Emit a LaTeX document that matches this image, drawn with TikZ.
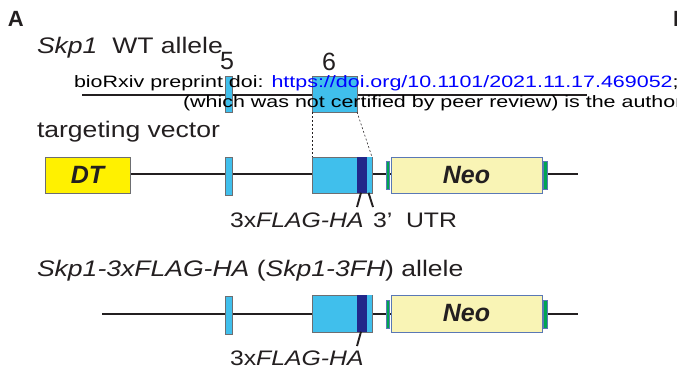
\documentclass[tikz,border=0pt]{standalone}
\usepackage{fontspec}
\setmainfont[FakeStretch=1.18]{Liberation Sans}
\newfontfamily\plainfont{Liberation Sans}
\newfontfamily\wmfont[FakeStretch=1.3]{Liberation Sans}
\definecolor{exonblue}{HTML}{40BFEC}
\definecolor{navy}{HTML}{22278A}
\definecolor{dtyellow}{HTML}{FFF100}
\definecolor{neoyellow}{HTML}{F9F4B5}
\definecolor{neoedge}{HTML}{5A78B5}
\definecolor{loxgreen}{HTML}{00A651}
\definecolor{boxedge}{HTML}{6D6E71}
\definecolor{ink}{HTML}{231F20}
\definecolor{linkblue}{HTML}{0000FF}
\begin{document}
\begin{tikzpicture}[x=1pt,y=-1pt,
  every node/.style={inner sep=0pt, outer sep=0pt},
  backbone/.style={draw=ink, line width=1.4pt},
  exon/.style={draw=boxedge, fill=exonblue, line width=0.6pt},
  tagbox/.style={fill=navy, draw=none},
  utrbox/.style={fill=exonblue, draw=none},
  dtbox/.style={draw=boxedge, fill=dtyellow, line width=0.6pt},
  neobox/.style={draw=neoedge, fill=neoyellow, line width=0.8pt},
  lox/.style={draw=neoedge, fill=loxgreen, line width=0.5pt, minimum width=3.5pt, minimum height=28pt},
  tick/.style={draw=ink, line width=1.9pt},
  zoomline/.style={draw=ink, line width=0.5pt, dash pattern=on 2pt off 2pt},
  title/.style={anchor=base west, text=ink, font=\fontsize{22.5}{25}\selectfont},
  label/.style={anchor=base west, text=ink, font=\fontsize{21}{24}\selectfont},
  boxtext/.style={text=ink, font=\plainfont\fontsize{25}{28}\selectfont\bfseries\itshape},
  exonnum/.style={text=ink, font=\plainfont\fontsize{25}{28}\selectfont},
  panel/.style={anchor=base west, text=ink, font=\plainfont\fontsize{22}{24}\selectfont\bfseries},
  stamp/.style={anchor=base west, text=black, font=\wmfont\fontsize{16.5}{18}\selectfont}
]
\useasboundingbox (0,0) rectangle (677,383);

% panel letters
\node[panel] (panA) at (8,26) {A};
\node[panel] (panB) at (673,26) {B};

% ---------- Skp1 WT allele ----------
\node[title] (wtTitle) at (37,53) {\itshape Skp1\upshape\ \ WT allele};
\coordinate (wtL) at (82,95);
\coordinate (wtR) at (587,95);
\draw[backbone] (wtL) -- (wtR);
\node[exon, minimum width=7pt, minimum height=36pt] (wtE5) at (228.5,94) {};
\node[exon, minimum width=45pt, minimum height=36pt] (wtE6) at (334.5,94) {};
\node[exonnum] (num5) at (227,61) {5};
\node[exonnum] (num6) at (329,62) {6};

% ---------- targeting vector ----------
\node[title] (tvTitle) at (37,137) {targeting vector};
\coordinate (tvL) at (130,174);
\coordinate (tvR) at (578,174);
\draw[backbone] (tvL) -- (tvR);
\node[dtbox, minimum width=85pt, minimum height=36pt] (dt) at (87.5,175) {};
\node[boxtext] at (dt.center) {DT};
\node[exon, minimum width=7pt, minimum height=38pt] (tvE5) at (228.5,176) {};
\node[exon, minimum width=60pt, minimum height=36pt] (tvE6) at (342,175) {};
\node[tagbox, minimum width=10pt, minimum height=35.4pt] (tvTag) at (362,175) {};
\node[utrbox, minimum width=4.4pt, minimum height=35.4pt] (tvUTR) at (369.5,175) {};
\node[lox] (tvLoxA) at (387.5,175) {};
\node[neobox, minimum width=151pt, minimum height=36pt] (tvNeo) at (466.5,175) {};
\node[boxtext] at (tvNeo.center) {Neo};
\node[lox] (tvLoxB) at (545,175) {};
\draw[zoomline] (wtE6.south west) -- (tvE6.north west);
\draw[zoomline] (wtE6.south east) -- (tvE6.north east);

\coordinate (tvTickA) at (357,207);
\coordinate (tvTickB) at (373,207);
\draw[tick] ([xshift=-1pt]tvTag.south) -- (tvTickA);
\draw[tick] ([xshift=-1pt]tvUTR.south) -- (tvTickB);
\node[label] (tvHA) at (230,227) {3x\itshape FLAG-HA};
\node[label] (tvUTRlabel) at (373,227) {3’\ \ UTR};

% ---------- Skp1-3xFLAG-HA allele ----------
\node[title] (kiTitle) at (37,276) {\itshape Skp1-3xFLAG-HA\upshape\ (\itshape Skp1-3FH\upshape) allele};
\coordinate (kiL) at (102,314);
\coordinate (kiR) at (578,314);
\draw[backbone] (kiL) -- (kiR);
\node[exon, minimum width=7pt, minimum height=38pt] (kiE5) at (228.5,315) {};
\node[exon, minimum width=60pt, minimum height=37pt] (kiE6) at (342,313.5) {};
\node[tagbox, minimum width=10pt, minimum height=36.4pt] (kiTag) at (362,313.5) {};
\node[utrbox, minimum width=4.4pt, minimum height=36.4pt] (kiUTR) at (369.5,313.5) {};
\node[lox] (kiLoxA) at (387.5,314) {};
\node[neobox, minimum width=151pt, minimum height=37pt] (kiNeo) at (466.5,313.5) {};
\node[boxtext] at (kiNeo.center) {Neo};
\node[lox] (kiLoxB) at (545,314) {};
\coordinate (kiTick) at (357,346);
\draw[tick] ([xshift=-1pt]kiTag.south) -- (kiTick);
\node[label] (kiHA) at (230,365) {3x\itshape FLAG-HA};

% ---------- preprint stamp ----------
\node[stamp] (stamp1) at (74,87) {bioRxiv preprint doi: \textcolor{linkblue}{https://doi.org/10.1101/2021.11.17.469052}; };
\node[stamp] (stamp2) at (183,107) {(which was not certified by peer review) is the author};
\end{tikzpicture}
\end{document}
